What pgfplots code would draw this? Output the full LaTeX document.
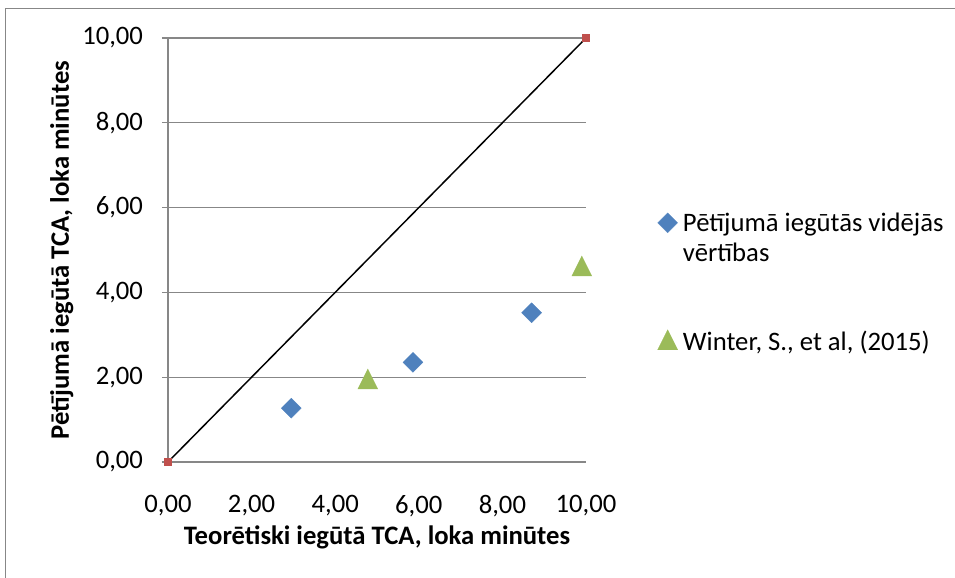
\documentclass[border=0pt]{standalone}
\usepackage{pgfplots}
\pgfplotsset{compat=1.18}
\usepackage{fontspec}
\setmainfont{Carlito}
\definecolor{xlblue}{HTML}{4F81BD}
\definecolor{xlgreen}{HTML}{9BBB59}
\definecolor{xlred}{HTML}{C0504D}
\definecolor{xlgray}{HTML}{878787}
\begin{document}
\begin{tikzpicture}
\useasboundingbox (0,0) rectangle (358.125pt,216.75pt);
\draw[xlgray, line width=0.4pt] (1.9pt,0) -- (1.9pt,213.4pt) -- (358.125pt,213.4pt);
\begin{axis}[
  at={(63pt,43.5pt)}, anchor=south west,
  scale only axis, width=156.75pt, height=159pt,
  xmin=0, xmax=10, ymin=0, ymax=10,
  xtick={0,2,...,10}, ytick={0,2,...,10},
  axis x line*=bottom, axis y line*=left,
  axis line style={-, xlgray, line width=0.5pt},
  ymajorgrids, grid style={xlgray, line width=0.5pt},
  tick align=outside, major tick length=2.25pt,
  xtick style={draw=none}, ytick style={xlgray, line width=0.5pt},
  xticklabel style={yshift=-6.6pt},
  yticklabel style={xshift=-3.6pt},
  label style={font=\bfseries},
  xlabel={Teorētiski iegūtā TCA, loka minūtes},
  ylabel={Pētījumā iegūtā TCA, loka minūtes},
  xlabel style={at={(axis description cs:0.5,-0.177)}, anchor=center},
  ylabel style={at={(axis description cs:-0.254,0.5)}, anchor=center},
  clip=false,
  legend style={draw=none, fill=none, at={(axis description cs:1.151,0.62)}, anchor=north west,
    row sep=32pt},
  legend cell align=left,
  /pgf/number format/.cd, fixed, fixed zerofill, precision=2, use comma, assume math mode=true
]
\addplot[black, line width=0.56pt, mark=square*, mark size=1.1pt, mark options={fill=xlred, draw=xlred}, forget plot] coordinates {(0,0) (10,10)};
\addplot[only marks, color=xlblue, mark=square*, mark size=2.65pt, mark options={rotate=45, fill=xlblue, draw=xlblue, line width=0.1pt}] coordinates {(2.95,1.27) (5.86,2.35) (8.70,3.52)};
\addlegendentry{\renewcommand{\arraystretch}{0.94}\begin{tabular}[t]{@{}l@{}}Pētījumā iegūtās vidējās\\vērtības\end{tabular}}
\addplot[only marks, color=xlgreen, mark=triangle*, mark size=4.33pt, mark options={yscale=1.155, fill=xlgreen, draw=xlgreen, line width=0.1pt}] coordinates {(4.78,1.88) (9.90,4.545)};
\addlegendentry{Winter, S., et al, (2015)}
\end{axis}
\end{tikzpicture}
\end{document}
